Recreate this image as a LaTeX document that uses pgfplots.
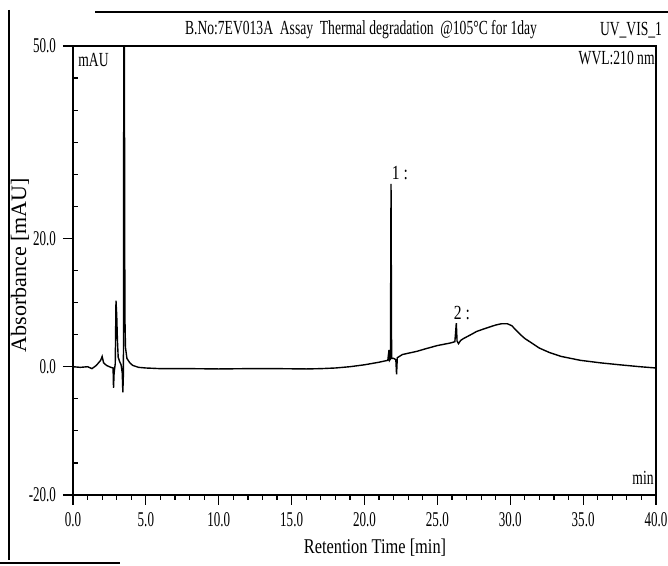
\documentclass[border=0pt]{standalone}
\usepackage{fontspec}
\setmainfont{Liberation Serif}
\newfontfamily\tnr{Liberation Serif}
\newfontfamily\tnrc{Liberation Serif}[FakeStretch=0.78]
\newfontfamily\tnrt{Liberation Serif}[FakeStretch=0.68]
\newfontfamily\tnrn{Liberation Serif}[FakeStretch=0.62]
\usepackage{pgfplots}
\pgfplotsset{compat=1.18}
\begin{document}
\begin{tikzpicture}
\useasboundingbox (-36.5pt,-35.5pt) rectangle (297.5pt,247.5pt);
\begin{axis}[
  width=291.5pt, height=224.5pt, scale only axis,
  xmin=0, xmax=40, ymin=-20, ymax=50,
  xtick={0,5,...,40}, minor x tick num=4,
  ytick={-20,0,20,50},
  minor ytick={-15,-10,-5,5,10,15,25,30,35,40,45},
  tick pos=left, tick align=outside,
  major tick length=5pt, minor tick length=2.5pt,
  minor y tick style={xshift=2.5pt},
  axis line style={line width=0.8pt},
  every tick/.style={black, line width=0.6pt},
  /pgf/number format/.cd, fixed, fixed zerofill, precision=1, assume math mode=true,
  /pgfplots/.cd,
  xticklabel style={font=\tnrn\fontsize{10.5}{12}\selectfont},
  yticklabel style={font=\tnrn\fontsize{10.5}{12}\selectfont},
  clip mode=individual,
]
\addplot[black, line width=0.7pt] coordinates {
(0,0) (0.5,-0.1) (1.0,0.0) (1.3,-0.3) (1.6,0.2) (1.9,1.0) (2.0,1.6) (2.1,0.6)
(2.3,0.2) (2.6,-0.1) (2.75,-0.2) (2.78,-3.3) (2.82,-1.0) (2.9,0.5) (2.95,10.3)
(3.0,8.0) (3.05,4.0) (3.1,1.5) (3.2,0.8) (3.3,0.3) (3.38,-1.0) (3.42,-4.0)
(3.46,-1.0) (3.5,80) (3.56,8.0) (3.6,3.0) (3.7,1.3) (3.9,0.6) (4.1,0.2)
(4.5,-0.1) (5.0,-0.2) (6,-0.3) (8,-0.3) (10,-0.35) (12,-0.3) (14,-0.3)
(16,-0.35) (17,-0.3) (18,-0.2) (19,0.0) (20,0.3) (21,0.7) (21.6,1.0)
(21.68,2.6) (21.72,1.0) (21.78,1.2) (21.82,28.5) (21.86,1.3) (22.0,1.3)
(22.15,1.1) (22.2,-1.2) (22.25,1.4) (22.6,1.9) (23,2.1) (23.6,2.4) (24.2,2.8)
(25.0,3.3) (25.9,3.7) (26.2,3.9) (26.3,6.8) (26.35,4.0) (26.45,3.6) (26.6,4.1)
(26.8,4.4) (27.3,5.0) (27.7,5.5) (28.2,5.9) (28.6,6.2) (29.0,6.5) (29.4,6.7)
(29.8,6.7) (30.1,6.4) (30.4,5.7) (30.7,5.0) (31.0,4.4) (31.6,3.5) (32.0,2.9)
(32.7,2.2) (33.5,1.6) (34.8,1.0) (36.2,0.6) (37.5,0.3) (38.9,0.0) (40,-0.2)
};
\node[anchor=west, inner sep=0pt, font=\tnrc\fontsize{10}{12}\selectfont] at (axis cs:21.85,30.2) {1 :};
\node[anchor=west, inner sep=0pt, font=\tnrc\fontsize{10}{12}\selectfont] at (axis cs:26.1,8.4) {2 :};
\end{axis}
% texts
\node[font=\tnrt\fontsize{10}{12}\selectfont, inner sep=0pt] at (144pt,232.5pt) {B.No:7EV013A\ \ Assay\ \ Thermal degradation\ \ @105°C for 1day};
\node[font=\tnrt\fontsize{10}{12}\selectfont, inner sep=0pt] at (279pt,232.5pt) {UV\_VIS\_1};
\node[font=\tnrt\fontsize{10}{12}\selectfont, inner sep=0pt, anchor=east] at (291pt,218.5pt) {WVL:210 nm};
\node[font=\tnrt\fontsize{10}{12}\selectfont, inner sep=0pt, anchor=west] at (2.5pt,217.5pt) {mAU};
\node[font=\tnrt\fontsize{10}{12}\selectfont, inner sep=0pt, anchor=east] at (290.5pt,8.5pt) {min};
\node[font=\tnrc\fontsize{10.5}{12}\selectfont, inner sep=0pt] at (151pt,-26.5pt) {Retention Time [min]};
\node[font=\tnr\fontsize{11}{12}\selectfont, inner sep=0pt, rotate=90] at (-26.5pt,115pt) {Absorbance [mAU]};
% scanned frame lines
\draw[line width=0.7pt] (-32pt,242.5pt) -- (-32pt,-32.5pt);
\draw[line width=0.7pt] (11pt,241.5pt) -- (297.5pt,241.5pt);
\draw[line width=0.6pt] (-36.5pt,-34pt) -- (23.5pt,-34pt);
\end{tikzpicture}
\end{document}
